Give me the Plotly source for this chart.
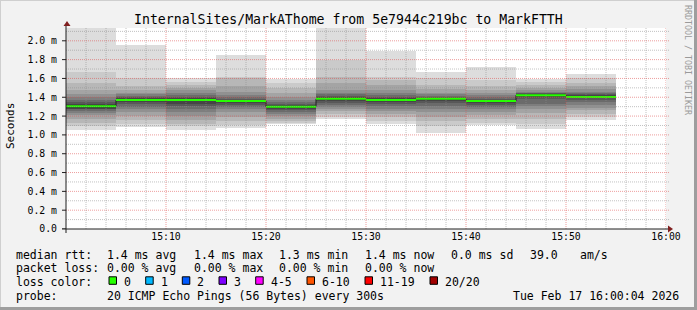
import plotly.graph_objects as go
import pandas as pd

DAY = "2026-02-17 "
TITLE = "InternalSites/MarkAThome from 5e7944c219bc to MarkFTTH"

# 5-minute slots (start times)
slot_starts = ["15:00", "15:05", "15:10", "15:15", "15:20", "15:25",
               "15:30", "15:35", "15:40", "15:45", "15:50"]

# sorted ping RTTs (ms) per slot, 20 pings each
p1500 = [1.053, 1.09, 1.13, 1.17, 1.21, 1.23, 1.25, 1.27, 1.28, 1.295, 1.315, 1.33, 1.35, 1.37, 1.40, 1.43, 1.48, 1.55, 1.67, 2.30]
p1505 = [1.085, 1.12, 1.16, 1.20, 1.24, 1.27, 1.30, 1.33, 1.35, 1.364, 1.38, 1.39, 1.40, 1.41, 1.43, 1.45, 1.48, 1.52, 1.60, 1.957]
p1510 = [1.053, 1.09, 1.12, 1.16, 1.20, 1.24, 1.28, 1.31, 1.33, 1.364, 1.38, 1.39, 1.40, 1.42, 1.44, 1.48, 1.50, 1.53, 1.56, 1.61]
p1515 = [1.07, 1.10, 1.15, 1.19, 1.24, 1.27, 1.30, 1.32, 1.34, 1.354, 1.368, 1.375, 1.385, 1.40, 1.42, 1.46, 1.52, 1.60, 1.62, 1.847]
p1520 = [1.113, 1.13, 1.15, 1.17, 1.20, 1.22, 1.24, 1.26, 1.28, 1.29, 1.305, 1.32, 1.33, 1.35, 1.37, 1.40, 1.45, 1.50, 1.55, 1.59]
p1525 = [1.17, 1.19, 1.22, 1.25, 1.28, 1.30, 1.32, 1.34, 1.36, 1.376, 1.39, 1.40, 1.41, 1.43, 1.45, 1.48, 1.55, 1.62, 1.80, 2.30]
p1530 = [1.12, 1.15, 1.19, 1.22, 1.25, 1.28, 1.31, 1.33, 1.35, 1.364, 1.38, 1.39, 1.40, 1.42, 1.44, 1.48, 1.53, 1.58, 1.62, 1.89]
p1535 = [1.02, 1.09, 1.15, 1.19, 1.24, 1.28, 1.31, 1.34, 1.36, 1.376, 1.39, 1.395, 1.40, 1.41, 1.43, 1.45, 1.49, 1.53, 1.60, 1.67]
p1540 = [1.10, 1.13, 1.17, 1.21, 1.24, 1.27, 1.30, 1.32, 1.34, 1.354, 1.368, 1.375, 1.385, 1.40, 1.42, 1.45, 1.48, 1.52, 1.58, 1.72]
p1545 = [1.06, 1.12, 1.17, 1.23, 1.27, 1.31, 1.33, 1.38, 1.40, 1.414, 1.43, 1.435, 1.44, 1.45, 1.46, 1.48, 1.50, 1.53, 1.56, 1.59]
p1550 = [1.163, 1.19, 1.22, 1.26, 1.29, 1.32, 1.35, 1.37, 1.39, 1.398, 1.41, 1.42, 1.43, 1.44, 1.46, 1.49, 1.52, 1.55, 1.60, 1.645]

median_rtt = [1.305, 1.372, 1.372, 1.361, 1.298, 1.383, 1.372, 1.383, 1.361, 1.422, 1.404]

x_tick_labels = ["15:10", "15:20", "15:30", "15:40", "15:50", "16:00"]
y_tick_values = [0.0, 0.2, 0.4, 0.6, 0.8, 1.0, 1.2, 1.4, 1.6, 1.8, 2.0]
y_tick_labels = ["0.0", "0.2 m", "0.4 m", "0.6 m", "0.8 m", "1.0 m", "1.2 m",
                 "1.4 m", "1.6 m", "1.8 m", "2.0 m"]

rtt_label = "median rtt:"
rtt_items = ["1.4 ms avg", "1.4 ms max", "1.3 ms min", "1.4 ms now", "0.0 ms sd", "39.0", "am/s"]
loss_label = "packet loss:"
loss_items = ["0.00 % avg", "0.00 % max", "0.00 % min", "0.00 % now"]
color_label = "loss color:"
loss_classes = ["0", "1", "2", "3", "4-5", "6-10", "11-19", "20/20"]
loss_colors = ["#26ff00", "#00b8ff", "#0059ff", "#7e00ff", "#ff00ff", "#ff5500", "#ff0000", "#a10000"]
probe_label = "probe:"
probe_text = "20 ICMP Echo Pings (56 Bytes) every 300s"
stamp_text = "Tue Feb 17 16:00:04 2026"
side_text = "RRDTOOL / TOBI OETIKER"

# ---------------------------------------------------------------
W, H = 697, 310
L, R, T, B = 66, 31, 28, 81
PW, PH = W - L - R, H - T - B
FONT = "DejaVu Sans Mono"


def px(x):
    return (x - L) / PW


def py(y):
    return (T + PH - y) / PH


slots = [p1500, p1505, p1510, p1515, p1520, p1525, p1530, p1535, p1540, p1545, p1550]
starts = pd.to_datetime([DAY + s for s in slot_starts])
step = pd.Timedelta(minutes=5)
centers = starts + step / 2
ends = starts + step

fig = go.Figure()

n = 20
half = n // 2
for k in range(half):
    lo = [s[k] for s in slots]
    hi = [s[n - 1 - k] for s in slots]
    g = int(190 / half * (half - (k + 1))) + 50
    col = "#%02x%02x%02x" % (g, g, g)
    fig.add_trace(go.Bar(
        x=centers, base=lo, y=[h - l for h, l in zip(hi, lo)],
        width=step.total_seconds() * 1000, marker=dict(color=col, line=dict(width=0)),
        hoverinfo="skip", showlegend=False))

# black step connector
sx = list(starts) + [ends[-1]]
sy = list(median_rtt) + [median_rtt[-1]]
fig.add_trace(go.Scatter(x=sx, y=sy, mode="lines", line=dict(color="#202020", width=1, shape="hv"),
                         hoverinfo="skip", showlegend=False))
# green median segments
gx, gy = [], []
for s, e, m in zip(starts, ends, median_rtt):
    gx += [s, e, None]
    gy += [m, m, None]
fig.add_trace(go.Scatter(x=gx, y=gy, mode="lines", line=dict(color=loss_colors[0], width=2),
                         hoverinfo="skip", showlegend=False))

shapes = []
MINOR = "rgba(143,143,143,0.55)"
MAJOR = "rgba(222,79,79,0.55)"
t0 = pd.Timestamp(DAY + "15:00")
for i in range(1, 31):
    t = t0 + pd.Timedelta(minutes=2 * i)
    major = (2 * i) % 10 == 0
    shapes.append(dict(type="line", xref="x", yref="paper", x0=t, x1=t, y0=0, y1=1, layer="above",
                       line=dict(color=MAJOR if major else MINOR, width=1, dash="1px,1px")))
for i in range(1, 22):
    v = i / 10
    major = i % 2 == 0
    shapes.append(dict(type="line", xref="paper", yref="y", x0=0, x1=px(669), y0=v, y1=v, layer="above",
                       line=dict(color=MAJOR if major else MINOR, width=1, dash="1px,1px")))
# axes
AX = "#1f1f1f"
shapes.append(dict(type="line", xref="paper", yref="paper", x0=px(62), x1=px(669), y0=0, y1=0,
                   layer="above", line=dict(color=AX, width=1)))
shapes.append(dict(type="line", xref="paper", yref="paper", x0=0, x1=0, y0=py(233), y1=py(24),
                   layer="above", line=dict(color=AX, width=1)))
for v in y_tick_values:
    shapes.append(dict(type="line", xref="paper", yref="y", x0=px(62), x1=0, y0=v, y1=v,
                       layer="above", line=dict(color=AX, width=1)))
# arrows
ARROW = "#801f1f"
shapes.append(dict(type="path", xref="paper", yref="paper",
                   path="M %f %f L %f %f L %f %f Z" % (px(63.5), py(26), px(70.5), py(26), px(67), py(21)),
                   fillcolor=ARROW, line=dict(width=0), layer="above"))
shapes.append(dict(type="path", xref="paper", yref="paper",
                   path="M %f %f L %f %f L %f %f Z" % (px(668), py(225.5), px(668), py(232.5), px(673), py(229)),
                   fillcolor=ARROW, line=dict(width=0), layer="above"))
# frame
shapes.append(dict(type="line", xref="paper", yref="paper", x0=px(0), x1=px(W), y0=py(0.5), y1=py(0.5),
                   line=dict(color="#cfcfcf", width=1)))
shapes.append(dict(type="line", xref="paper", yref="paper", x0=px(0.5), x1=px(0.5), y0=py(0), y1=py(H),
                   line=dict(color="#cfcfcf", width=1)))
shapes.append(dict(type="line", xref="paper", yref="paper", x0=px(0), x1=px(W), y0=py(H - 1.5), y1=py(H - 1.5),
                   line=dict(color="#9e9e9e", width=3)))
shapes.append(dict(type="line", xref="paper", yref="paper", x0=px(W - 1.5), x1=px(W - 1.5), y0=py(0), y1=py(H),
                   line=dict(color="#9e9e9e", width=3)))

annotations = []


def txt(x, y, s, size=11.5, color="#000000", anchor="left", angle=0):
    annotations.append(dict(x=px(x), y=py(y), xref="paper", yref="paper", text=s, showarrow=False,
                            xanchor=anchor, yanchor="middle", borderpad=0, borderwidth=0,
                            textangle=angle, font=dict(family=FONT, size=size, color=color)))


txt(348, 19, TITLE, size=13.2, anchor="center")
txt(10.5, 126.5, "Seconds", size=11, anchor="center", angle=-90)
txt(688, 60, side_text, size=8.3, color="#9a9a9a", anchor="center", angle=90)

LX = 16
item_x = [107.3, 193.7, 279.3, 365, 451, 530, 580]
Y1, Y2, Y3, Y4 = 254.7, 268.3, 282.3, 296
txt(LX, Y1, rtt_label)
for x, s in zip(item_x, rtt_items):
    txt(x, Y1, s)
txt(LX, Y2, loss_label)
for x, s in zip(item_x, loss_items):
    txt(x, Y2, s)
txt(LX, Y3, color_label)
box_x = [109, 145.7, 182.3, 219, 255.7, 307, 365, 430]
for x, lab, c in zip(box_x, loss_classes, loss_colors):
    shapes.append(dict(type="rect", xref="paper", yref="paper", x0=px(x), x1=px(x + 7.5),
                       y0=py(284.3), y1=py(276.8), fillcolor=c, line=dict(color="#000000", width=1)))
    txt(x + 15, Y3, lab)
txt(LX, Y4, probe_label)
txt(107.3, Y4, probe_text)
txt(513.3, Y4, stamp_text)

fig.update_layout(
    width=W, height=H,
    margin=dict(l=L, r=R, t=T, b=B, pad=0),
    paper_bgcolor="#f2f2f2", plot_bgcolor="#ffffff",
    barmode="overlay", bargap=0,
    showlegend=False,
    shapes=shapes, annotations=annotations,
    xaxis=dict(type="date", range=[DAY + "15:00", DAY + "16:00"],
               tickvals=[DAY + t for t in x_tick_labels], ticktext=x_tick_labels,
               showgrid=False, zeroline=False, showline=False, ticks="",
               tickfont=dict(family=FONT, size=9.8, color="#000000"), fixedrange=True),
    yaxis=dict(range=[0, 2.136], tickvals=y_tick_values, ticktext=y_tick_labels,
               showgrid=False, zeroline=False, showline=False, ticks="", ticklabelstandoff=8,
               tickfont=dict(family=FONT, size=9.8, color="#000000"), fixedrange=True),
)

fig.write_html("out.html", config={"displayModeBar": False})
